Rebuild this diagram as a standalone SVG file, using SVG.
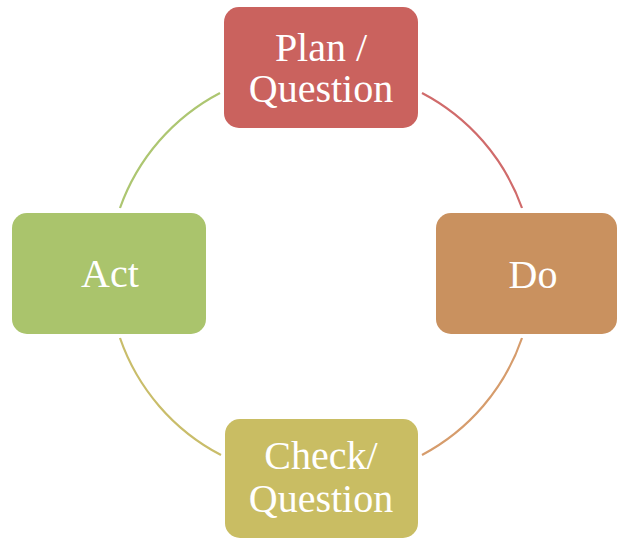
<svg xmlns="http://www.w3.org/2000/svg" width="618" height="540" viewBox="0 0 618 540">
<style>
.lbl{font-family:"Liberation Serif","Times New Roman",serif;font-size:40px;fill:#ffffff;text-anchor:middle}
.arc{fill:none;stroke-width:2.2}
</style>
<rect width="618" height="540" fill="#ffffff"/>
<g id="connectors">
<path class="arc" stroke="#D06B6B" d="M422,93 A209,209 0 0 1 522,208"/>
<path class="arc" stroke="#D69C6C" d="M522,338 A209,209 0 0 1 422,455"/>
<path class="arc" stroke="#C9BD6A" d="M221,455 A209,209 0 0 1 120,338"/>
<path class="arc" stroke="#ADC671" d="M120,208 A209,209 0 0 1 220,93"/>
</g>
<g id="plan">
<rect x="224" y="7" width="194" height="121" rx="15" fill="#CA625E"/>
<text class="lbl" x="321" y="61">Plan /</text>
<text class="lbl" x="321" y="102">Question</text>
</g>
<g id="do">
<rect x="436" y="213" width="181" height="121" rx="15" fill="#C9915F"/>
<text class="lbl" x="533" y="288">Do</text>
</g>
<g id="check">
<rect x="225" y="419" width="193" height="119" rx="15" fill="#C9BD63"/>
<text class="lbl" x="321" y="469">Check/</text>
<text class="lbl" x="321" y="512">Question</text>
</g>
<g id="act">
<rect x="12" y="213" width="194" height="121" rx="15" fill="#AAC46C"/>
<text class="lbl" x="110" y="287">Act</text>
</g>
</svg>
